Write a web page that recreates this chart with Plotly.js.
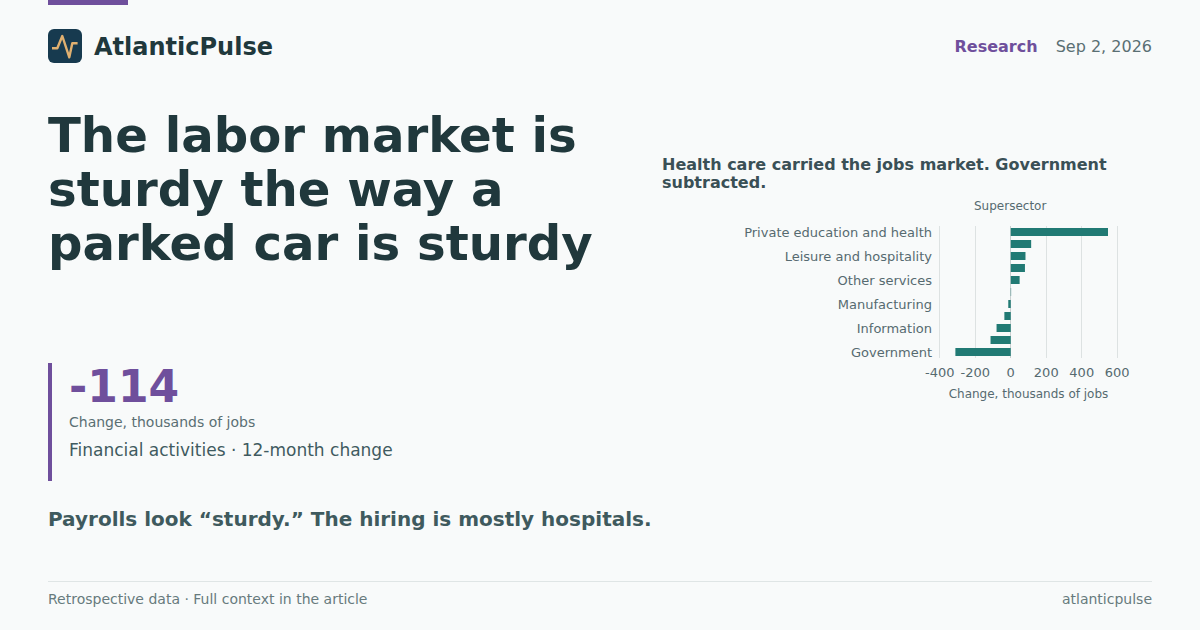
<!DOCTYPE html>
<html>
<head>
<meta charset="utf-8">
<script src="https://cdn.plot.ly/plotly-3.0.1.min.js"></script>
<style>
*{box-sizing:border-box}
html,body{margin:0;padding:0;background:#f8fafa}
body{width:1200px;height:630px;position:relative;overflow:hidden;font-family:"DejaVu Sans",sans-serif;color:#20383c}
.a{position:absolute;white-space:nowrap;line-height:1}
</style>
</head>
<body>
<div class="a" style="left:48px;top:0;width:80px;height:5px;background:#6f4f9c"></div>
<svg class="a" style="left:48px;top:29px" width="34" height="34" viewBox="0 0 34 34">
<rect width="34" height="34" rx="6" fill="#173a4f"/>
<polyline points="4,19.3 9.3,19.3 14.3,7 21.3,28.3 24.3,14.3 29.6,14.3" fill="none" stroke="#e0b070" stroke-width="2.4" stroke-linejoin="round"/>
</svg>
<div class="a" style="left:94px;top:35px;font-size:24px;font-weight:700;color:#20383c">AtlanticPulse</div>
<div class="a" style="left:954.5px;top:39px;font-size:16px;font-weight:700;color:#6f4f9c">Research</div>
<div class="a" style="right:48px;top:39px;font-size:16px;color:#5a6f73">Sep 2, 2026</div>
<div class="a" style="left:48px;top:108px;font-size:48.2px;font-weight:700;line-height:54px;color:#20383c">The labor market is<br>sturdy the way a<br>parked car is sturdy</div>
<div class="a" style="left:48px;top:363px;width:4px;height:118px;background:#6f4f9c"></div>
<div class="a" style="left:69px;top:365px;font-size:44px;font-weight:700;color:#6f4f9c">-114</div>
<div class="a" style="left:69px;top:415px;font-size:14px;color:#5a6f73">Change, thousands of jobs</div>
<div class="a" style="left:69px;top:442px;font-size:17px;color:#3f5a60">Financial activities · 12-month change</div>
<div class="a" style="left:48px;top:509px;font-size:20px;font-weight:700;color:#3f5a5e">Payrolls look “sturdy.” The hiring is mostly hospitals.</div>
<div class="a" style="left:662px;top:156px;font-size:16px;font-weight:700;line-height:18px;color:#3a5056">Health care carried the jobs market. Government<br>subtracted.</div>
<div class="a" style="left:48px;top:581px;width:1104px;height:1px;background:#dfe5e5"></div>
<div class="a" style="left:48px;top:592px;font-size:14px;color:#677a7d">Retrospective data · Full context in the article</div>
<div class="a" style="right:48px;top:592px;font-size:14px;color:#677a7d">atlanticpulse</div>
<div id="chart" class="a" style="left:662px;top:195px;width:490px;height:215px"></div>
<script>
const categories = ["Private education and health","Construction","Leisure and hospitality","Professional and business services","Other services","Mining and logging","Manufacturing","Trade, transportation, and utilities","Information","Financial activities","Government"];
const values = [548,115,83,80,50,2,-14,-36,-80,-114,-312];
const yTickLabels = ["Private education and health","Leisure and hospitality","Other services","Manufacturing","Information","Government"];
const xTicks = [-400,-200,0,200,400,600];
const xTitle = "Change, thousands of jobs";
const yTitle = "Supersector";
Plotly.newPlot("chart",[{
  type:"bar",orientation:"h",x:values,y:categories,
  marker:{color:"#217a74"},hoverinfo:"x+y"
}],{
  width:490,height:215,
  paper_bgcolor:"rgba(0,0,0,0)",plot_bgcolor:"rgba(0,0,0,0)",
  margin:{l:275.5,r:32.94,t:31,b:52},
  bargap:0.33,showlegend:false,
  font:{family:"DejaVu Sans",size:13,color:"#566a70"},
  xaxis:{range:[-410,610],tickvals:xTicks,ticktext:xTicks.map(String),tickfont:{size:13,color:"#566a70"},
    gridcolor:"#dde2e2",gridwidth:1,zeroline:true,zerolinecolor:"#c9d0d0",zerolinewidth:1,showline:false,
    ticks:"outside",ticklen:2,tickcolor:"rgba(0,0,0,0)",
    title:{text:xTitle,font:{size:12,color:"#566a70"},standoff:11},automargin:false},
  yaxis:{type:"category",categoryorder:"array",categoryarray:categories,autorange:"reversed",
    tickmode:"array",tickvals:yTickLabels,ticktext:yTickLabels,tickfont:{size:13,color:"#566a70"},
    showgrid:false,zeroline:false,showline:false,ticks:"",ticklabelstandoff:5,automargin:false},
  annotations:[{text:yTitle,xref:"paper",yref:"paper",x:0.399,y:1,yshift:20,showarrow:false,xanchor:"center",yanchor:"middle",font:{size:12,color:"#566a70"}}]
},{displayModeBar:false,staticPlot:true});
</script>
</body>
</html>
